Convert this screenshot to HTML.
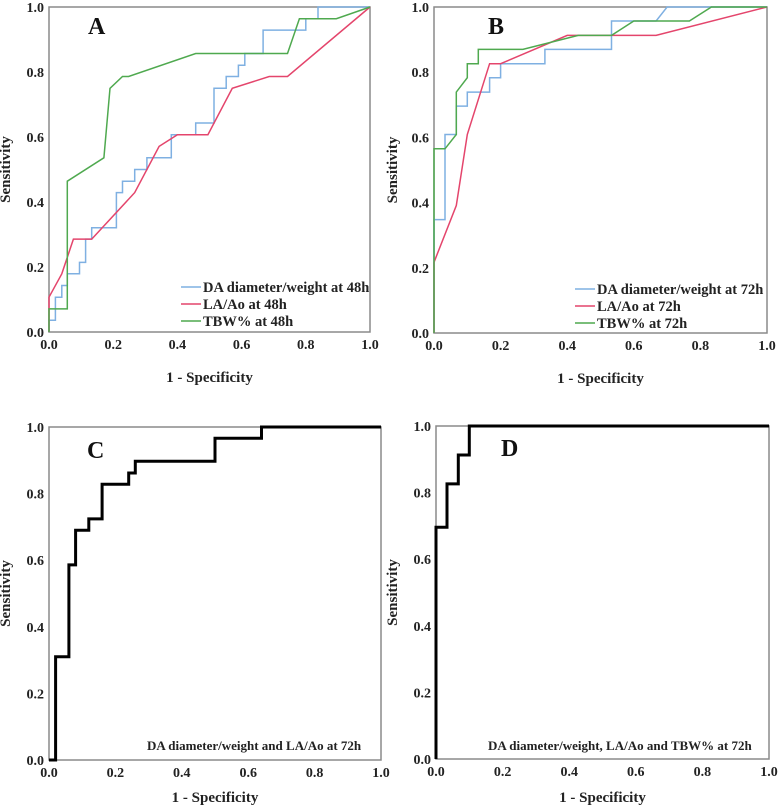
<!DOCTYPE html>
<html><head><meta charset="utf-8"><style>
body{margin:0;background:#fff}
svg{display:block;font-family:"Liberation Serif",serif;font-weight:bold}
</style></head><body>
<svg id="chart" width="779" height="810" viewBox="0 0 779 810" xmlns="http://www.w3.org/2000/svg"></svg>
<script>
const ticks = [0, 0.2, 0.4, 0.6, 0.8, 1.0];
const tickLabels = ["0.0","0.2","0.4","0.6","0.8","1.0"];
// Panel A
const aBlueX = [0,0,0.02,0.02,0.04,0.04,0.057,0.057,0.095,0.095,0.114,0.114,0.133,0.133,0.21,0.21,0.229,0.229,0.267,0.267,0.305,0.305,0.381,0.381,0.457,0.457,0.514,0.514,0.552,0.552,0.59,0.59,0.61,0.61,0.667,0.667,0.8,0.8,0.838,0.838,1];
const aBlueY = [0,0.036,0.036,0.107,0.107,0.143,0.143,0.179,0.179,0.214,0.214,0.286,0.286,0.321,0.321,0.429,0.429,0.464,0.464,0.5,0.5,0.536,0.536,0.607,0.607,0.643,0.643,0.75,0.75,0.786,0.786,0.821,0.821,0.857,0.857,0.929,0.929,0.964,0.964,1,1];
const aRedX = [0,0,0.04,0.076,0.133,0.267,0.343,0.4,0.495,0.571,0.686,0.743,1];
const aRedY = [0,0.107,0.179,0.286,0.286,0.429,0.571,0.607,0.607,0.75,0.786,0.786,1];
const aGreenX = [0,0,0.057,0.057,0.171,0.19,0.229,0.248,0.457,0.743,0.78,0.895,1];
const aGreenY = [0,0.071,0.071,0.464,0.536,0.75,0.786,0.786,0.857,0.857,0.964,0.964,1];
// Panel B
const bBlueX = [0,0,0.033,0.033,0.067,0.067,0.1,0.1,0.167,0.167,0.2,0.2,0.333,0.333,0.533,0.533,0.667,0.7,1];
const bBlueY = [0,0.348,0.348,0.609,0.609,0.696,0.696,0.739,0.739,0.783,0.783,0.826,0.826,0.87,0.87,0.957,0.957,1,1];
const bRedX = [0,0,0.067,0.1,0.167,0.2,0.4,0.667,1];
const bRedY = [0,0.217,0.391,0.609,0.826,0.826,0.913,0.913,1];
const bGreenX = [0,0,0.033,0.067,0.067,0.1,0.1,0.133,0.133,0.267,0.433,0.533,0.6,0.767,0.833,1];
const bGreenY = [0,0.565,0.565,0.609,0.739,0.783,0.826,0.826,0.87,0.87,0.913,0.913,0.957,0.957,1,1];
// Panel C
const cX = [0,0.02,0.02,0.06,0.06,0.08,0.08,0.12,0.12,0.16,0.16,0.24,0.24,0.26,0.26,0.5,0.5,0.64,0.64,1];
const cY = [0,0,0.31,0.31,0.586,0.586,0.69,0.69,0.724,0.724,0.828,0.828,0.862,0.862,0.897,0.897,0.966,0.966,1,1];
// Panel D
const dX = [0,0,0.033,0.033,0.067,0.067,0.1,0.1,1];
const dY = [0,0.696,0.696,0.826,0.826,0.913,0.913,1,1];

const NS="http://www.w3.org/2000/svg";
const svg=document.getElementById('chart');
function mk(tag,attrs,parent,text){const e=document.createElementNS(NS,tag);for(const k in attrs)e.setAttribute(k,attrs[k]);if(text!==undefined)e.textContent=text;(parent||svg).appendChild(e);return e;}

function panel(id,L,R,T,B,letter,lx,ly,ytx,xty,series,legend,note){
  const g=mk('g',{});
  
  
  const sx=v=>L+v*(R-L), sy=v=>B-v*(B-T);
  const fr=mk('rect',{x:L,y:T,width:R-L,height:B-T,fill:'none',stroke:'#8a8a8a','stroke-width':1.5},g);
  
  
  ticks.forEach((t,i)=>{
    const yl=mk('text',{x:L-5,y:sy(t)+5,'text-anchor':'end','font-size':14,fill:'#222'},g,tickLabels[i]);
    
    
    const xl=mk('text',{x:sx(t),y:B+17,'text-anchor':'middle','font-size':14,fill:'#222'},g,tickLabels[i]);
    
    
  });
  const yt=mk('text',{transform:`translate(${ytx},${(T+B)/2}) rotate(-90)`,'text-anchor':'middle','font-size':15,fill:'#222'},g,'Sensitivity');
  
  
  const xt=mk('text',{x:(L+R)/2,y:xty,'text-anchor':'middle','font-size':15,fill:'#222'},g,'1 - Specificity');
  
  
  const lt=mk('text',{x:lx,y:ly,'font-size':24,fill:'#111'},g,letter);
  
  
  series.forEach(s=>{
    const pts=s.x.map((v,i)=>sx(v).toFixed(1)+','+sy(s.y[i]).toFixed(1)).join(' ');
    const p=mk('polyline',{points:pts,fill:'none',stroke:s.c,'stroke-width':s.w,'stroke-linejoin':'miter'},g);
    
    
  });
  if(legend){
    legend.items.forEach((it,i)=>{
      const yy=legend.y+i*17;
      const ln=mk('line',{x1:legend.x,x2:legend.x+20,y1:yy,y2:yy,stroke:it.c,'stroke-width':1.5},g);
      
      
      const tx=mk('text',{x:legend.x+22,y:yy+5,'font-size':14.5,fill:'#222'},g,it.t);
      
      
    });
  }
  if(note){
    const nt=mk('text',{x:note.x,y:note.y,'font-size':13,fill:'#222'},g,note.t);
    
    
  }
}
const BL='#7fb0e2',RD='#e4456c',GR='#4fa94f';
panel('a',49,370,7,332,'A',88,34,10,382,[
  {x:aBlueX,y:aBlueY,c:BL,w:1.5,n:'line-da-48h'},
  {x:aRedX,y:aRedY,c:RD,w:1.5,n:'line-laao-48h'},
  {x:aGreenX,y:aGreenY,c:GR,w:1.5,n:'line-tbw-48h'}],
  {x:181,y:287,items:[{c:BL,t:'DA diameter/weight at 48h'},{c:RD,t:'LA/Ao at 48h'},{c:GR,t:'TBW% at 48h'}]},null);
panel('b',434,767,7,333,'B',488,34,397,383,[
  {x:bBlueX,y:bBlueY,c:BL,w:1.5,n:'line-da-72h'},
  {x:bRedX,y:bRedY,c:RD,w:1.5,n:'line-laao-72h'},
  {x:bGreenX,y:bGreenY,c:GR,w:1.5,n:'line-tbw-72h'}],
  {x:575,y:289,items:[{c:BL,t:'DA diameter/weight at 72h'},{c:RD,t:'LA/Ao at 72h'},{c:GR,t:'TBW% at 72h'}]},null);
panel('c',49,381,427,760,'C',87,458,10,802,[
  {x:cX,y:cY,c:'#000',w:3,n:'line-da-laao-72h'}],null,
  {x:147,y:750,t:'DA diameter/weight and LA/Ao at 72h'});
panel('d',436,769,426,759,'D',501,456,397,802,[
  {x:dX,y:dY,c:'#000',w:3,n:'line-da-laao-tbw-72h'}],null,
  {x:488,y:750,t:'DA diameter/weight, LA/Ao and TBW%  at 72h'});
</script>
</body></html>
